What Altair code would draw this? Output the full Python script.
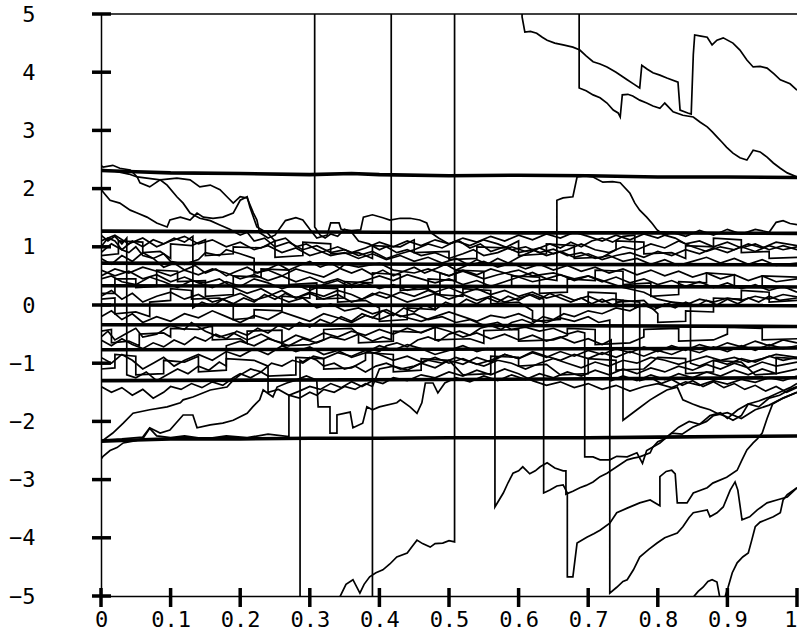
import altair as alt
import pandas as pd

# ---------------- tick values ----------------
x_ticks = [0, 0.1, 0.2, 0.3, 0.4, 0.5, 0.6, 0.7, 0.8, 0.9, 1.0]
y_ticks = [-5, -4, -3, -2, -1, 0, 1, 2, 3, 4, 5]

# ---------------- thick (nearly flat) reference paths ----------------
thick_1 = [(0, 2.31), (0.05, 2.29), (0.1, 2.27), (0.2, 2.26), (0.3, 2.24), (0.36, 2.26), (0.4, 2.24),
           (0.5, 2.22), (0.6, 2.23), (0.7, 2.22), (0.8, 2.2), (0.9, 2.2), (1.0, 2.19)]
thick_2 = [(0, 1.27), (0.2, 1.26), (0.4, 1.25), (0.6, 1.24), (0.8, 1.24), (1.0, 1.23)]
thick_3 = [(0, 0.72), (0.5, 0.7), (1.0, 0.69)]
thick_4 = [(0, 0.33), (0.5, 0.32), (1.0, 0.31)]
thick_5 = [(0, 0.0), (1.0, -0.01)]
thick_6 = [(0, -0.34), (0.5, -0.35), (1.0, -0.37)]
thick_7 = [(0, -0.77), (0.5, -0.76), (1.0, -0.74)]
thick_8 = [(0, -1.3), (0.5, -1.28), (1.0, -1.25)]
thick_9 = [(0, -2.34), (0.05, -2.32), (0.1, -2.3), (0.2, -2.3), (0.3, -2.29), (0.4, -2.29),
           (0.5, -2.28), (0.6, -2.28), (0.7, -2.28), (0.8, -2.27), (0.9, -2.26), (1.0, -2.25)]

# ---------------- thin sample paths ----------------
path_t1 = [(0.33, -5.4), (0.343, -5.02), (0.352, -4.8), (0.362, -4.72), (0.372, -4.95), (0.378, -4.8),
           (0.386, -4.67), (0.395, -4.6), (0.405, -4.55), (0.415, -4.45), (0.425, -4.33), (0.44, -4.26),
           (0.447, -4.15), (0.454, -4.04), (0.462, -4.1), (0.473, -4.16), (0.48, -4.1), (0.491, -4.09),
           (0.5, -4.05), (0.508, -4.07), (0.508, 6.0), (0.605, 6.0), (0.605, 4.95), (0.609, 4.69),
           (0.617, 4.7), (0.626, 4.67), (0.634, 4.6), (0.641, 4.55), (0.652, 4.5), (0.664, 4.47),
           (0.678, 4.43), (0.688, 4.38), (0.697, 4.28), (0.707, 4.18), (0.717, 4.14), (0.727, 4.09),
           (0.74, 4.0), (0.756, 3.87), (0.765, 3.8), (0.774, 3.73), (0.777, 4.12), (0.785, 4.05),
           (0.793, 3.99), (0.803, 3.95), (0.813, 3.9), (0.829, 3.83), (0.832, 3.35), (0.843, 3.3),
           (0.848, 3.28), (0.851, 4.3), (0.853, 4.64), (0.862, 4.62), (0.871, 4.6), (0.878, 4.47),
           (0.885, 4.55), (0.894, 4.59), (0.908, 4.5), (0.918, 4.38), (0.928, 4.21), (0.937, 4.09),
           (0.947, 4.1), (0.957, 4.07), (0.967, 3.97), (0.976, 3.87), (0.99, 3.8), (1.0, 3.69)]
path_t2 = [(0, -0.55), (0.01, -0.45), (0.02, -0.6), (0.035, -0.5), (0.05, -0.4), (0.06, -0.55), (0.08, -0.5),
           (0.1, -0.35), (0.12, -0.42), (0.13, -0.3), (0.15, -0.45), (0.17, -0.55), (0.19, -0.48),
           (0.21, -0.6), (0.23, -0.5), (0.25, -0.62), (0.27, -0.7), (0.29, -0.58), (0.31, -0.65),
           (0.33, -0.55), (0.35, -0.6), (0.37, -0.5), (0.39, -0.62), (0.405, -0.55), (0.417, -0.6),
           (0.417, 6.0), (0.687, 6.0), (0.687, 3.73), (0.697, 3.68), (0.707, 3.61), (0.717, 3.56),
           (0.727, 3.47), (0.736, 3.35), (0.743, 3.3), (0.746, 3.23), (0.749, 3.61), (0.757, 3.62),
           (0.764, 3.59), (0.774, 3.52), (0.784, 3.47), (0.793, 3.42), (0.803, 3.38), (0.81, 3.47),
           (0.822, 3.32), (0.836, 3.26), (0.851, 3.23), (0.861, 3.14), (0.871, 3.06), (0.878, 2.98),
           (0.885, 2.89), (0.892, 2.8), (0.899, 2.71), (0.908, 2.61), (0.918, 2.53), (0.928, 2.49),
           (0.937, 2.66), (0.947, 2.63), (0.957, 2.54), (0.966, 2.44), (0.976, 2.35), (0.986, 2.27),
           (1.0, 2.2)]
path_t3 = [(0, 6.0), (0.307, 6.0), (0.307, 1.34), (0.315, 1.2), (0.322, 1.15), (0.33, 1.22), (0.34, 1.18),
           (0.35, 1.3), (0.36, 1.25), (0.37, 1.1), (0.385, 1.05), (0.4, 0.95), (0.41, 1.0), (0.425, 0.9),
           (0.44, 0.95), (0.46, 0.85), (0.48, 0.9), (0.5, 0.8), (0.52, 0.88), (0.535, 0.95), (0.55, 0.85),
           (0.57, 0.9), (0.59, 1.0), (0.61, 0.92), (0.63, 0.98), (0.65, 0.88), (0.67, 0.95), (0.69, 1.05),
           (0.71, 0.95), (0.73, 0.9), (0.75, 1.0), (0.77, 0.95), (0.79, 1.05), (0.81, 0.98), (0.83, 1.1),
           (0.85, 1.0), (0.87, 0.92), (0.89, 1.0), (0.91, 0.95), (0.93, 1.05), (0.95, 0.98), (0.97, 1.08),
           (1.0, 1.02)]
path_t4 = [(0, -6.0), (0.286, -6.0), (0.286, -0.95), (0.29, -0.98), (0.3, -0.9), (0.31, -0.95), (0.32, -1.05),
           (0.335, -1.0), (0.35, -1.1), (0.365, -1.05), (0.38, -1.15), (0.395, -1.05), (0.41, -1.0),
           (0.43, -1.1), (0.45, -1.05), (0.47, -0.95), (0.49, -1.0), (0.51, -0.9), (0.53, -0.98),
           (0.55, -1.05), (0.57, -0.95), (0.59, -1.0), (0.61, -1.1), (0.63, -1.0), (0.65, -0.92),
           (0.67, -1.0), (0.69, -1.08), (0.71, -0.98), (0.73, -1.05), (0.75, -0.95), (0.77, -1.0),
           (0.79, -0.9), (0.81, -0.95), (0.83, -1.02), (0.85, -0.95), (0.87, -0.88), (0.89, -0.95),
           (0.91, -0.9), (0.93, -0.98), (0.95, -0.92), (0.97, -0.85), (1.0, -0.9)]
path_t5 = [(0, -6.0), (0.39, -6.0), (0.39, -0.83), (0.4, -0.8), (0.41, -0.7), (0.425, -0.65), (0.44, -0.72),
           (0.455, -0.6), (0.47, -0.55), (0.485, -0.62), (0.5, -0.5), (0.515, -0.45), (0.53, -0.52),
           (0.545, -0.4), (0.56, -0.35), (0.575, -0.42), (0.59, -0.3), (0.605, -0.25), (0.62, -0.32),
           (0.635, -0.2), (0.65, -0.25), (0.665, -0.15), (0.68, -0.2), (0.7, -0.1), (0.72, -0.15),
           (0.74, -0.05), (0.76, -0.1), (0.78, 0.02), (0.8, -0.05), (0.82, 0.05), (0.84, 0.0), (0.86, 0.1),
           (0.88, 0.05), (0.9, 0.12), (0.92, 0.08), (0.94, 0.15), (0.96, 0.1), (0.98, 0.18), (1.0, 0.14)]
path_t7 = [(0, -0.9), (0.015, -1.0), (0.03, -0.85), (0.045, -0.95), (0.06, -1.1), (0.075, -1.0), (0.09, -0.9),
           (0.105, -1.05), (0.12, -0.95), (0.14, -0.85), (0.16, -0.95), (0.18, -0.8), (0.2, -0.88),
           (0.22, -0.75), (0.24, -0.85), (0.26, -0.7), (0.28, -0.8), (0.3, -0.72), (0.32, -0.85),
           (0.34, -0.78), (0.36, -0.9), (0.38, -0.82), (0.4, -0.7), (0.42, -0.78), (0.44, -0.68),
           (0.46, -0.75), (0.48, -0.85), (0.5, -0.78), (0.52, -0.7), (0.54, -0.8), (0.555, -0.75),
           (0.566, -0.77), (0.566, -3.47), (0.572, -3.35), (0.578, -3.23), (0.585, -3.05), (0.592, -2.89),
           (0.6, -2.85), (0.606, -2.78), (0.616, -2.9), (0.624, -2.85), (0.631, -2.78), (0.641, -2.71),
           (0.652, -2.8), (0.664, -2.85), (0.668, -2.85), (0.668, -3.25), (0.678, -3.2), (0.688, -3.14),
           (0.697, -3.1), (0.707, -3.04), (0.717, -2.95), (0.727, -2.89), (0.741, -2.78), (0.756, -2.66),
           (0.765, -2.63), (0.774, -2.61), (0.789, -2.54), (0.793, -2.44), (0.803, -2.37), (0.815, -2.25),
           (0.83, -2.1), (0.845, -2.0), (0.86, -2.05), (0.875, -1.9), (0.89, -1.85), (0.9, -1.95),
           (0.915, -1.8), (0.93, -1.7), (0.945, -1.75), (0.96, -1.6), (0.975, -1.55), (0.99, -1.45),
           (1.0, -1.4)]
path_t8 = [(0, 0.15), (0.015, 0.25), (0.03, 0.1), (0.045, 0.2), (0.06, 0.05), (0.08, 0.15), (0.1, 0.22),
           (0.12, 0.1), (0.14, 0.18), (0.16, 0.05), (0.18, 0.12), (0.2, 0.2), (0.22, 0.08), (0.24, 0.15),
           (0.26, 0.25), (0.28, 0.12), (0.3, 0.2), (0.32, 0.1), (0.34, 0.18), (0.36, 0.05), (0.38, 0.12),
           (0.4, 0.22), (0.42, 0.15), (0.44, 0.05), (0.46, 0.12), (0.48, 0.2), (0.5, 0.1), (0.52, 0.18),
           (0.54, 0.08), (0.56, 0.15), (0.58, 0.05), (0.6, 0.12), (0.62, 0.18), (0.636, 0.1), (0.636, -3.23),
           (0.645, -3.18), (0.655, -3.11), (0.664, -3.09), (0.67, -3.23), (0.67, -4.67), (0.678, -4.67),
           (0.684, -4.09), (0.698, -3.99), (0.708, -3.93), (0.717, -3.87), (0.731, -3.75), (0.741, -3.57),
           (0.756, -3.49), (0.774, -3.4), (0.789, -3.35), (0.803, -3.45), (0.803, -2.95), (0.812, -2.86),
           (0.82, -2.84), (0.825, -2.9), (0.828, -3.4), (0.842, -3.4), (0.851, -3.23), (0.871, -3.14),
           (0.879, -3.06), (0.899, -2.96), (0.914, -2.84), (0.921, -2.66), (0.928, -2.49), (0.937, -2.37),
           (0.943, -2.3), (0.95, -2.2), (0.957, -1.95), (0.965, -1.7), (0.98, -1.6), (1.0, -1.5)]
path_t9 = [(0, -0.2), (0.015, -0.1), (0.03, -0.25), (0.045, -0.15), (0.06, -0.3), (0.08, -0.2), (0.1, -0.28),
           (0.12, -0.15), (0.14, -0.22), (0.16, -0.1), (0.18, -0.2), (0.2, -0.3), (0.22, -0.18), (0.24, -0.25),
           (0.26, -0.12), (0.28, -0.2), (0.3, -0.28), (0.32, -0.15), (0.34, -0.22), (0.36, -0.3), (0.38, -0.18),
           (0.4, -0.25), (0.42, -0.15), (0.44, -0.22), (0.46, -0.28), (0.48, -0.2), (0.5, -0.12), (0.52, -0.2),
           (0.54, -0.28), (0.56, -0.18), (0.58, -0.22), (0.6, -0.15), (0.62, -0.25), (0.64, -0.3),
           (0.66, -0.22), (0.68, -0.28), (0.7, -0.2), (0.715, -0.3), (0.731, -0.26), (0.731, -4.95),
           (0.741, -4.85), (0.75, -4.75), (0.756, -4.72), (0.765, -4.55), (0.774, -4.33), (0.787, -4.2),
           (0.799, -4.09), (0.81, -4.0), (0.828, -3.92), (0.836, -3.81), (0.845, -3.65), (0.851, -3.57),
           (0.871, -3.52), (0.875, -3.64), (0.885, -3.57), (0.894, -3.47), (0.904, -3.18), (0.911, -3.04),
           (0.915, -3.18), (0.921, -3.69), (0.932, -3.64), (0.943, -3.52), (0.957, -3.4), (0.971, -3.35),
           (0.986, -3.3), (1.0, -3.14)]
path_t10 = [(0.84, -5.5), (0.851, -5.02), (0.858, -4.92), (0.865, -4.85), (0.872, -4.75), (0.878, -4.72),
            (0.885, -4.76), (0.889, -5.02), (0.892, -5.5), (0.895, -5.5), (0.897, -5.0), (0.901, -4.85),
            (0.907, -4.6), (0.914, -4.43), (0.922, -4.33), (0.93, -4.26), (0.935, -4.04), (0.94, -3.81),
            (0.947, -3.73), (0.966, -3.64), (0.976, -3.57), (0.98, -3.35), (0.986, -3.26), (1.0, -3.14)]
path_qe = [(0, 0.45), (0.015, 0.5), (0.03, 0.4), (0.05, 0.35), (0.07, 0.48), (0.09, 0.4), (0.11, 0.3),
           (0.13, 0.42), (0.15, 0.38), (0.17, 0.45), (0.19, 0.3), (0.21, 0.2), (0.23, 0.28), (0.25, 0.15),
           (0.27, 0.05), (0.29, 0.12), (0.31, -0.05), (0.33, 0.02), (0.35, -0.1), (0.37, -0.05), (0.39, -0.15),
           (0.41, -0.08), (0.43, -0.2), (0.45, -0.15), (0.47, -0.25), (0.49, -0.2), (0.51, -0.3), (0.53, -0.25),
           (0.55, -0.35), (0.57, -0.3), (0.59, -0.42), (0.61, -0.38), (0.63, -0.45), (0.65, -0.4), (0.67, -0.5),
           (0.685, -0.45), (0.695, -0.48), (0.695, -2.61), (0.707, -2.61), (0.717, -2.66), (0.731, -2.66),
           (0.741, -2.6), (0.756, -2.61), (0.77, -2.54), (0.778, -2.72), (0.784, -2.5), (0.793, -2.44),
           (0.8, -2.35), (0.81, -2.3), (0.82, -2.2), (0.835, -2.22), (0.85, -2.1), (0.87, -2.0), (0.88, -1.9),
           (0.9, -1.85), (0.92, -1.95), (0.94, -1.8), (0.96, -1.72), (0.98, -1.6), (1.0, -1.5)]
path_qf = [(0, 0.6), (0.02, 0.5), (0.04, 0.58), (0.06, 0.45), (0.08, 0.52), (0.1, 0.4), (0.12, 0.48),
           (0.14, 0.38), (0.16, 0.3), (0.18, 0.4), (0.2, 0.32), (0.22, 0.45), (0.24, 0.38), (0.26, 0.28),
           (0.28, 0.35), (0.3, 0.25), (0.32, 0.35), (0.34, 0.42), (0.36, 0.3), (0.38, 0.38), (0.4, 0.28),
           (0.42, 0.35), (0.44, 0.25), (0.46, 0.32), (0.48, 0.22), (0.5, 0.3), (0.52, 0.2), (0.54, 0.28),
           (0.56, 0.18), (0.58, 0.25), (0.6, 0.15), (0.62, 0.22), (0.64, 0.12), (0.66, 0.18), (0.68, 0.08),
           (0.7, 0.15), (0.72, 0.05), (0.735, 0.1), (0.75, 0.08), (0.75, -1.98), (0.77, -1.8), (0.789, -1.63),
           (0.8, -1.55), (0.813, -1.46), (0.828, -1.41), (0.836, -1.63), (0.85, -1.7), (0.861, -1.75),
           (0.875, -1.8), (0.885, -1.86), (0.899, -1.92), (0.908, -1.98), (0.92, -1.9), (0.93, -1.7),
           (0.945, -1.65), (0.96, -1.58), (0.975, -1.5), (0.99, -1.42), (1.0, -1.35)]
path_u1 = [(0, 2.0), (0.003, 1.94), (0.013, 1.8), (0.027, 1.75), (0.042, 1.63), (0.052, 1.58), (0.066, 1.51),
           (0.08, 1.41), (0.095, 1.34), (0.099, 1.46), (0.114, 1.51), (0.128, 1.46), (0.138, 1.58),
           (0.147, 1.51), (0.161, 1.49), (0.175, 1.51), (0.19, 1.58), (0.2, 1.8), (0.21, 1.86), (0.214, 1.68),
           (0.224, 1.34), (0.239, 1.24), (0.25, 1.1), (0.265, 1.15), (0.28, 1.0), (0.295, 1.05), (0.31, 0.95),
           (0.33, 0.85), (0.35, 0.9), (0.37, 0.8), (0.39, 0.88), (0.41, 0.78), (0.43, 0.85), (0.45, 0.75),
           (0.47, 0.82), (0.49, 0.72), (0.51, 0.8), (0.53, 0.68), (0.55, 0.75), (0.57, 0.65), (0.59, 0.72),
           (0.61, 0.62), (0.63, 0.7), (0.65, 0.6), (0.67, 0.68), (0.69, 0.58), (0.71, 0.65), (0.73, 0.55),
           (0.75, 0.62), (0.77, 0.52), (0.79, 0.6), (0.81, 0.5), (0.83, 0.58), (0.85, 0.48), (0.87, 0.55),
           (0.89, 0.45), (0.91, 0.52), (0.93, 0.42), (0.95, 0.5), (0.97, 0.4), (1.0, 0.45)]
path_u2 = [(0, 2.4), (0.003, 2.37), (0.017, 2.4), (0.027, 2.35), (0.042, 2.32), (0.052, 2.2), (0.056, 2.1),
           (0.07, 2.03), (0.085, 2.15), (0.095, 2.06), (0.109, 1.86), (0.118, 1.75), (0.128, 1.58),
           (0.142, 1.49), (0.157, 1.45), (0.17, 1.38), (0.185, 1.3), (0.2, 1.2), (0.21, 1.25), (0.22, 1.1),
           (0.235, 1.15), (0.25, 1.0), (0.27, 1.08), (0.29, 0.95), (0.31, 1.02), (0.33, 0.9), (0.35, 0.95),
           (0.37, 0.85), (0.39, 0.92), (0.41, 0.8), (0.43, 0.88), (0.45, 0.95), (0.47, 1.05), (0.49, 0.98),
           (0.51, 1.1), (0.53, 1.02), (0.55, 1.12), (0.57, 1.05), (0.59, 0.95), (0.61, 1.0), (0.63, 0.9),
           (0.65, 0.96), (0.67, 0.85), (0.69, 0.9), (0.71, 0.8), (0.73, 0.85), (0.75, 0.75), (0.77, 0.8),
           (0.79, 0.7), (0.81, 0.78), (0.83, 0.68), (0.85, 0.75), (0.87, 0.82), (0.89, 0.72), (0.91, 0.8),
           (0.93, 0.7), (0.95, 0.78), (0.97, 0.68), (1.0, 0.72)]
path_u3 = [(0, 2.33), (0.02, 2.3), (0.04, 2.25), (0.052, 2.2), (0.085, 2.15), (0.109, 2.18), (0.128, 2.15),
           (0.142, 2.03), (0.157, 2.06), (0.171, 1.98), (0.181, 1.86), (0.19, 1.75), (0.2, 1.86), (0.21, 1.84),
           (0.219, 1.58), (0.224, 1.46), (0.228, 1.24), (0.24, 1.15), (0.25, 1.2), (0.265, 1.45), (0.28, 1.5),
           (0.29, 1.46), (0.3, 1.3), (0.31, 1.15), (0.325, 1.2), (0.33, 1.41), (0.342, 1.41), (0.345, 1.3),
           (0.36, 1.28), (0.373, 1.29), (0.377, 1.51), (0.39, 1.55), (0.405, 1.5), (0.415, 1.46), (0.43, 1.49),
           (0.444, 1.49), (0.458, 1.46), (0.468, 1.41), (0.473, 1.25), (0.485, 1.15), (0.5, 1.05),
           (0.515, 1.1), (0.53, 0.98), (0.545, 1.05), (0.56, 0.92), (0.58, 1.0), (0.6, 0.9), (0.62, 0.95),
           (0.64, 0.85), (0.66, 0.92), (0.68, 0.82), (0.7, 0.88), (0.72, 0.78), (0.74, 0.85), (0.76, 0.9),
           (0.78, 0.82), (0.8, 0.92), (0.82, 0.85), (0.84, 0.95), (0.86, 0.88), (0.88, 0.98), (0.9, 0.9),
           (0.92, 1.0), (0.94, 0.92), (0.96, 1.02), (0.98, 0.95), (1.0, 1.0)]
path_u4 = [(0, 0.5), (0.02, 0.62), (0.04, 0.55), (0.06, 0.65), (0.08, 0.58), (0.1, 0.5), (0.12, 0.6),
           (0.14, 0.52), (0.16, 0.62), (0.18, 0.55), (0.2, 0.45), (0.22, 0.52), (0.24, 0.42), (0.26, 0.5),
           (0.28, 0.4), (0.3, 0.48), (0.32, 0.38), (0.34, 0.45), (0.36, 0.35), (0.38, 0.42), (0.4, 0.5),
           (0.42, 0.42), (0.44, 0.52), (0.46, 0.45), (0.48, 0.38), (0.5, 0.45), (0.52, 0.35), (0.54, 0.42),
           (0.56, 0.32), (0.58, 0.4), (0.6, 0.48), (0.62, 0.4), (0.64, 0.45), (0.655, 0.42), (0.655, 1.8),
           (0.664, 1.84), (0.678, 1.86), (0.684, 2.2), (0.695, 2.22), (0.707, 2.2), (0.721, 2.11),
           (0.735, 2.12), (0.746, 2.1), (0.76, 1.92), (0.767, 1.75), (0.774, 1.63), (0.784, 1.51),
           (0.792, 1.4), (0.799, 1.29), (0.81, 1.2), (0.825, 1.15), (0.84, 1.05), (0.86, 1.1), (0.88, 1.0),
           (0.9, 1.08), (0.92, 0.98), (0.94, 1.05), (0.96, 0.95), (0.98, 1.02), (1.0, 0.95)]
path_u5 = [(0, 1.1), (0.02, 1.2), (0.04, 1.05), (0.06, 1.15), (0.08, 1.0), (0.1, 1.1), (0.12, 1.18),
           (0.14, 1.05), (0.16, 1.12), (0.18, 1.0), (0.2, 1.08), (0.22, 0.95), (0.24, 1.02), (0.26, 0.9),
           (0.28, 0.98), (0.3, 0.85), (0.32, 0.92), (0.34, 1.0), (0.36, 0.9), (0.38, 0.98), (0.4, 1.08),
           (0.42, 1.0), (0.44, 1.1), (0.46, 1.02), (0.48, 1.12), (0.5, 1.05), (0.52, 1.15), (0.54, 1.08),
           (0.56, 1.18), (0.58, 1.1), (0.6, 1.2), (0.62, 1.12), (0.64, 1.22), (0.66, 1.15), (0.68, 1.25),
           (0.7, 1.18), (0.72, 1.1), (0.74, 1.2), (0.76, 1.12), (0.78, 1.22), (0.8, 1.15), (0.82, 1.25),
           (0.84, 1.18), (0.86, 1.28), (0.88, 1.2), (0.9, 1.3), (0.92, 1.22), (0.94, 1.3), (0.96, 1.25),
           (0.97, 1.42), (0.98, 1.45), (0.99, 1.4), (1.0, 1.38)]
path_qa = [(0, -2.65), (0.003, -2.6), (0.013, -2.5), (0.023, -2.45), (0.032, -2.37), (0.05, -2.33),
           (0.06, -2.3), (0.07, -2.12), (0.08, -2.25), (0.1, -2.28), (0.12, -2.25), (0.15, -2.3),
           (0.18, -2.25), (0.21, -2.28), (0.24, -2.22), (0.27, -2.26), (0.27, -1.55), (0.285, -1.6),
           (0.3, -1.5), (0.31, -1.55), (0.32, -1.45), (0.335, -1.5), (0.35, -1.4), (0.365, -1.45),
           (0.38, -1.35), (0.39, -1.4), (0.4, -1.1), (0.42, -1.05), (0.44, -1.12), (0.46, -1.0), (0.48, -1.08),
           (0.5, -0.95), (0.52, -1.02), (0.54, -0.9), (0.56, -0.98), (0.58, -0.85), (0.6, -0.92), (0.62, -0.8),
           (0.64, -0.88), (0.66, -0.95), (0.68, -0.85), (0.7, -0.92), (0.72, -0.82), (0.74, -0.9), (0.76, -0.8),
           (0.78, -0.88), (0.8, -0.78), (0.82, -0.85), (0.84, -0.75), (0.86, -0.82), (0.88, -0.72), (0.9, -0.8),
           (0.92, -0.7), (0.94, -0.78), (0.96, -0.68), (0.98, -0.75), (1.0, -0.7)]
path_qb = [(0, -2.35), (0.017, -2.2), (0.032, -2.03), (0.046, -1.86), (0.07, -1.8), (0.095, -1.75),
           (0.114, -1.68), (0.118, -1.63), (0.132, -1.58), (0.157, -1.46), (0.181, -1.41), (0.19, -1.29),
           (0.2, -1.2), (0.215, -1.1), (0.23, -1.15), (0.245, -1.0), (0.26, -1.05), (0.275, -0.95), (0.29, -1.0),
           (0.305, -0.88), (0.32, -0.92), (0.34, -0.82), (0.36, -0.88), (0.38, -0.78), (0.4, -0.85), (0.42, -0.95),
           (0.44, -0.88), (0.46, -0.98), (0.48, -0.9), (0.5, -1.0), (0.52, -0.92), (0.54, -1.02), (0.56, -0.95),
           (0.58, -0.85), (0.6, -0.92), (0.62, -0.82), (0.64, -0.9), (0.66, -0.8), (0.68, -0.88), (0.7, -0.78),
           (0.72, -0.85), (0.74, -0.75), (0.76, -0.82), (0.78, -0.72), (0.8, -0.8), (0.82, -0.7), (0.84, -0.78),
           (0.86, -0.68), (0.88, -0.75), (0.9, -0.65), (0.92, -0.72), (0.94, -0.62), (0.96, -0.7), (0.98, -0.6),
           (1.0, -0.65)]
path_qc = [(0, -2.32), (0.03, -2.3), (0.06, -2.27), (0.07, -2.11), (0.085, -2.2), (0.099, -2.15),
           (0.118, -1.89), (0.132, -1.89), (0.138, -2.11), (0.157, -2.06), (0.175, -2.03), (0.19, -1.98),
           (0.21, -1.86), (0.218, -1.75), (0.228, -1.63), (0.233, -1.46), (0.247, -1.58), (0.253, -1.41),
           (0.267, -1.34), (0.28, -1.29), (0.295, -1.22), (0.31, -1.29), (0.312, -1.75), (0.329, -1.75),
           (0.329, -2.2), (0.339, -2.2), (0.339, -1.89), (0.358, -1.84), (0.362, -2.11), (0.376, -2.03),
           (0.382, -1.75), (0.39, -1.8), (0.4, -1.75), (0.425, -1.68), (0.43, -1.63), (0.444, -1.75),
           (0.454, -1.86), (0.461, -1.68), (0.466, -1.34), (0.477, -1.34), (0.484, -1.51), (0.494, -1.34),
           (0.51, -1.25), (0.53, -1.32), (0.55, -1.22), (0.57, -1.3), (0.59, -1.2), (0.61, -1.28), (0.63, -1.18),
           (0.65, -1.25), (0.67, -1.15), (0.69, -1.22), (0.71, -1.12), (0.73, -1.2), (0.75, -1.1), (0.77, -1.18),
           (0.79, -1.08), (0.81, -1.15), (0.83, -1.05), (0.85, -1.12), (0.87, -1.02), (0.89, -1.1), (0.91, -1.0),
           (0.93, -1.08), (0.95, -0.98), (0.97, -1.05), (1.0, -0.98)]
path_m1 = [(0, 1.0), (0.01, 1.15), (0.02, 1.1), (0.03, 0.95), (0.04, 0.9), (0.05, 1.0), (0.06, 0.85),
           (0.075, 0.8), (0.09, 0.88), (0.1, 0.75), (0.12, 0.7), (0.14, 0.78), (0.15, 0.9), (0.17, 0.85),
           (0.18, 0.95), (0.2, 0.88), (0.22, 0.8), (0.22, 0.55), (0.24, 0.6), (0.26, 0.5), (0.28, 0.62),
           (0.3, 0.55), (0.32, 0.48), (0.34, 0.6), (0.35, 0.7), (0.37, 0.65), (0.4, 0.72), (0.42, 0.6),
           (0.45, 0.55), (0.47, 0.62), (0.5, 0.5), (0.52, 0.58), (0.55, 0.45), (0.57, 0.52), (0.6, 0.6),
           (0.62, 0.5), (0.65, 0.55), (0.68, 0.45), (0.7, 0.5), (0.73, 0.38), (0.75, 0.3), (0.78, 0.22),
           (0.8, 0.1), (0.82, 0.05), (0.847, 0.02), (0.847, -1.0), (0.86, -1.05), (0.88, -0.95), (0.9, -1.02),
           (0.92, -0.92), (0.94, -0.98), (0.96, -0.88), (0.98, -0.95), (1.0, -0.9)]
path_m2 = [(0, 0.9), (0.015, 1.05), (0.03, 0.95), (0.045, 1.1), (0.06, 1.0), (0.075, 1.12), (0.09, 1.05),
           (0.105, 1.15), (0.12, 1.08), (0.132, 1.18), (0.132, -0.05), (0.145, 0.05), (0.16, -0.02),
           (0.175, 0.1), (0.19, 0.02), (0.205, 0.12), (0.22, 0.05), (0.235, 0.18), (0.25, 0.1), (0.265, 0.2),
           (0.28, 0.12), (0.3, 0.22), (0.32, 0.15), (0.34, 0.25), (0.36, 0.18), (0.375, 0.1), (0.39, 0.2),
           (0.41, 0.12), (0.43, 0.22), (0.45, 0.15), (0.47, 0.25), (0.487, 0.18), (0.487, 0.55), (0.5, 0.5),
           (0.52, 0.6), (0.54, 0.52), (0.56, 0.62), (0.58, 0.55), (0.6, 0.48), (0.62, 0.56), (0.64, 0.45),
           (0.66, 0.52), (0.68, 0.42), (0.7, 0.5), (0.72, 0.4), (0.74, 0.48), (0.76, 0.38), (0.78, 0.45),
           (0.8, 0.35), (0.82, 0.42), (0.84, 0.32), (0.86, 0.4), (0.88, 0.3), (0.9, 0.38), (0.92, 0.28),
           (0.94, 0.35), (0.96, 0.25), (0.98, 0.32), (1.0, 0.22)]
path_m3 = [(0, 1.2), (0.01, 1.1), (0.02, 1.18), (0.03, 1.05), (0.037, 1.15), (0.037, -1.2), (0.05, -1.25),
           (0.065, -1.15), (0.08, -1.3), (0.095, -1.2), (0.11, -1.1), (0.125, -1.18), (0.14, -1.05),
           (0.155, -1.12), (0.17, -0.98), (0.18, -1.05), (0.18, -0.7), (0.2, -0.62), (0.22, -0.7), (0.24, -0.58),
           (0.26, -0.65), (0.28, -0.52), (0.3, -0.6), (0.32, -0.48), (0.34, -0.55), (0.36, -0.45), (0.38, -0.52),
           (0.4, -0.42), (0.42, -0.5), (0.44, -0.4), (0.46, -0.48), (0.48, -0.38), (0.5, -0.45), (0.52, -0.55),
           (0.54, -0.48), (0.56, -0.58), (0.58, -0.5), (0.6, -0.6), (0.62, -0.52), (0.64, -0.62), (0.66, -0.55),
           (0.68, -0.65), (0.7, -0.58), (0.72, -0.68), (0.733, -0.6), (0.733, -1.3), (0.75, -1.22), (0.77, -1.3),
           (0.79, -1.2), (0.81, -1.28), (0.83, -1.18), (0.85, -1.25), (0.87, -1.15), (0.89, -1.22), (0.91, -1.12),
           (0.93, -1.2), (0.95, -1.1), (0.97, -1.18), (1.0, -1.1)]
path_m4 = [(0, -1.4), (0.015, -1.5), (0.03, -1.42), (0.045, -1.55), (0.06, -1.45), (0.075, -1.6), (0.09, -1.5),
           (0.1, -1.4), (0.115, -1.45), (0.13, -1.35), (0.145, -1.42), (0.16, -1.32), (0.175, -1.38), (0.19, -1.25),
           (0.2, -1.18), (0.215, -1.25), (0.23, -1.15), (0.24, -1.22), (0.24, -1.5), (0.255, -1.45), (0.27, -1.55),
           (0.285, -1.48), (0.3, -1.4), (0.315, -1.45), (0.33, -1.35), (0.345, -1.42), (0.36, -1.32), (0.375, -1.4),
           (0.39, -1.3), (0.405, -1.35), (0.42, -1.25), (0.44, -1.3), (0.46, -1.2), (0.48, -1.25), (0.5, -1.15),
           (0.52, -1.22), (0.54, -1.12), (0.56, -1.2), (0.58, -1.1), (0.6, -1.18), (0.62, -1.3), (0.64, -1.38),
           (0.66, -1.32), (0.68, -1.42), (0.7, -1.35), (0.72, -1.45), (0.74, -1.38), (0.76, -1.48), (0.78, -1.4),
           (0.8, -1.35), (0.82, -1.42), (0.84, -1.32), (0.86, -1.38), (0.88, -1.3), (0.9, -1.36), (0.92, -1.28),
           (0.94, -1.33), (0.96, -1.25), (0.98, -1.3), (1.0, -1.22)]
path_m5 = [(0, 0.8), (0.015, 0.7), (0.03, 0.85), (0.045, 0.75), (0.06, 0.9), (0.075, 0.8), (0.09, 0.65),
           (0.105, 0.72), (0.12, 0.6), (0.135, 0.68), (0.15, 0.55), (0.165, 0.62), (0.18, 0.5), (0.195, 0.58),
           (0.21, 0.65), (0.225, 0.55), (0.24, 0.62), (0.255, 0.7), (0.27, 0.6), (0.285, 0.68), (0.3, 0.75),
           (0.315, 0.65), (0.33, 0.72), (0.345, 0.62), (0.36, 0.55), (0.375, 0.62), (0.39, 0.52), (0.405, 0.6),
           (0.42, 0.5), (0.435, 0.58), (0.45, 0.65), (0.465, 0.55), (0.48, 0.62), (0.495, 0.7), (0.51, 0.6),
           (0.525, 0.68), (0.54, 0.78), (0.555, 0.7), (0.57, 0.8), (0.585, 0.72), (0.6, 0.82), (0.615, 0.9),
           (0.63, 0.98), (0.645, 1.05), (0.66, 0.98), (0.675, 1.08), (0.69, 1.0), (0.705, 1.1), (0.72, 1.15),
           (0.735, 1.08), (0.75, 1.18), (0.767, 1.2), (0.767, -0.05), (0.78, 0.0), (0.795, -0.08), (0.81, 0.02),
           (0.825, -0.05), (0.84, 0.05), (0.855, -0.02), (0.87, 0.08), (0.885, 0.0), (0.9, 0.1), (0.915, 0.02),
           (0.93, 0.12), (0.945, 0.05), (0.96, 0.15), (0.975, 0.08), (1.0, 0.12)]
path_m6 = [(0, -0.6), (0.015, -0.7), (0.03, -0.58), (0.045, -0.68), (0.06, -0.75), (0.075, -0.65), (0.09, -0.72),
           (0.105, -0.6), (0.12, -0.68), (0.135, -0.55), (0.15, -0.62), (0.165, -0.5), (0.18, -0.58),
           (0.195, -0.45), (0.21, -0.52), (0.225, -0.4), (0.24, -0.48), (0.255, -0.35), (0.27, -0.42),
           (0.285, -0.3), (0.3, -0.38), (0.315, -0.25), (0.33, -0.32), (0.345, -0.2), (0.36, -0.28),
           (0.375, -0.15), (0.39, -0.22), (0.405, -0.1), (0.42, -0.18), (0.435, -0.05), (0.45, -0.12),
           (0.465, 0.0), (0.48, -0.08), (0.495, 0.05), (0.51, -0.02), (0.525, 0.1), (0.54, 0.02), (0.555, 0.12),
           (0.57, 0.05), (0.585, 0.15), (0.6, 0.08), (0.615, 0.18), (0.63, 0.1), (0.645, 0.2), (0.66, 0.12),
           (0.675, 0.05), (0.69, 0.12), (0.705, 0.02), (0.72, 0.1), (0.735, 0.0), (0.75, 0.08), (0.774, 0.05),
           (0.774, -1.3), (0.79, -1.25), (0.805, -1.35), (0.82, -1.28), (0.835, -1.38), (0.85, -1.3),
           (0.865, -1.4), (0.88, -1.32), (0.895, -1.42), (0.91, -1.35), (0.925, -1.45), (0.94, -1.38),
           (0.955, -1.48), (0.97, -1.4), (0.985, -1.5), (1.0, -1.42)]
path_s1 = [(0, 0.2), (0.02, 0.2), (0.02, 0.45), (0.05, 0.45), (0.05, 0.3), (0.08, 0.32), (0.08, 0.6),
           (0.11, 0.58), (0.11, 0.4), (0.15, 0.42), (0.15, 0.15), (0.19, 0.18), (0.19, 0.5), (0.23, 0.48),
           (0.23, 0.62), (0.27, 0.6), (0.27, 0.35), (0.31, 0.38), (0.31, 0.1), (0.35, 0.12), (0.35, 0.4),
           (0.39, 0.38), (0.39, 0.55), (0.43, 0.52), (0.43, 0.25), (0.47, 0.28), (0.47, 0.45), (0.51, 0.42),
           (0.51, 0.6), (0.55, 0.58), (0.55, 0.3), (0.59, 0.32), (0.59, 0.5), (0.63, 0.48), (0.63, 0.2),
           (0.67, 0.22), (0.67, 0.45), (0.71, 0.42), (0.71, 0.6), (0.75, 0.58), (0.75, 0.35), (0.79, 0.38),
           (0.79, 0.15), (0.83, 0.18), (0.83, 0.4), (0.87, 0.38), (0.87, 0.55), (0.91, 0.52), (0.91, 0.3),
           (0.95, 0.32), (0.95, 0.5), (1.0, 0.48)]
path_s2 = [(0, -0.45), (0.015, -0.42), (0.015, -0.65), (0.04, -0.62), (0.055, -0.7), (0.055, -0.5),
           (0.09, -0.48), (0.1, -0.55), (0.1, -0.4), (0.14, -0.42), (0.16, -0.36), (0.16, -0.6), (0.2, -0.58),
           (0.21, -0.66), (0.21, -0.45), (0.26, -0.43), (0.26, -0.7), (0.3, -0.68), (0.32, -0.6), (0.32, -0.42),
           (0.36, -0.4), (0.37, -0.5), (0.37, -0.65), (0.42, -0.62), (0.42, -0.45), (0.46, -0.47), (0.48, -0.38),
           (0.48, -0.6), (0.53, -0.58), (0.55, -0.66), (0.55, -0.44), (0.6, -0.42), (0.6, -0.62), (0.65, -0.6),
           (0.67, -0.52), (0.67, -0.4), (0.71, -0.42), (0.71, -0.68), (0.76, -0.65), (0.78, -0.55), (0.78, -0.42),
           (0.83, -0.4), (0.83, -0.62), (0.88, -0.6), (0.9, -0.5), (0.9, -0.38), (0.95, -0.4), (0.95, -0.6),
           (1.0, -0.58)]
path_s3 = [(0, 0.85), (0.025, 0.88), (0.025, 1.1), (0.06, 1.08), (0.06, 0.9), (0.085, 0.92), (0.1, 0.8),
           (0.1, 1.05), (0.13, 1.02), (0.15, 1.12), (0.15, 0.85), (0.19, 0.88), (0.19, 1.0), (0.23, 0.98),
           (0.25, 1.1), (0.25, 0.82), (0.29, 0.85), (0.29, 1.08), (0.33, 1.05), (0.33, 0.88), (0.37, 0.9),
           (0.39, 0.8), (0.39, 1.02), (0.43, 1.0), (0.45, 1.12), (0.45, 0.9), (0.5, 0.92), (0.5, 0.78),
           (0.54, 0.8), (0.54, 1.0), (0.58, 0.98), (0.6, 1.1), (0.6, 0.85), (0.64, 0.88), (0.64, 1.05),
           (0.68, 1.02), (0.68, 0.8), (0.72, 0.82), (0.74, 0.95), (0.74, 1.1), (0.78, 1.08), (0.78, 0.88),
           (0.82, 0.9), (0.84, 0.8), (0.84, 1.02), (0.88, 1.0), (0.88, 1.15), (0.92, 1.12), (0.92, 0.9),
           (0.96, 0.92), (0.96, 0.8), (1.0, 0.82)]
path_s4 = [(0, 0.1), (0.02, 0.12), (0.02, -0.15), (0.05, -0.12), (0.07, -0.2), (0.07, 0.05), (0.1, 0.08),
           (0.1, 0.28), (0.13, 0.25), (0.13, 0.1), (0.17, 0.12), (0.19, 0.02), (0.19, -0.25), (0.22, -0.22),
           (0.22, -0.08), (0.26, -0.1), (0.26, 0.15), (0.3, 0.12), (0.3, 0.3), (0.34, 0.28), (0.34, 0.05),
           (0.38, 0.08), (0.4, -0.05), (0.4, -0.28), (0.44, -0.25), (0.44, -0.05), (0.48, -0.08), (0.48, 0.18),
           (0.52, 0.15), (0.52, 0.28), (0.56, 0.25), (0.56, 0.02), (0.6, 0.05), (0.62, -0.1), (0.62, -0.28),
           (0.66, -0.25), (0.66, 0.0), (0.7, 0.02), (0.7, 0.22), (0.74, 0.2), (0.74, 0.05), (0.78, 0.08),
           (0.8, -0.15), (0.8, -0.3), (0.84, -0.28), (0.84, -0.1), (0.88, -0.12), (0.88, 0.12), (0.92, 0.1),
           (0.92, 0.25), (0.96, 0.22), (0.96, 0.05), (1.0, 0.08)]
path_s5 = [(0, -1.1), (0.02, -1.08), (0.02, -0.85), (0.05, -0.88), (0.05, -1.2), (0.09, -1.18), (0.09, -0.95),
           (0.12, -0.98), (0.14, -0.88), (0.14, -1.15), (0.18, -1.12), (0.18, -0.92), (0.22, -0.95), (0.24, -1.05),
           (0.24, -1.22), (0.28, -1.2), (0.28, -0.9), (0.32, -0.92), (0.32, -1.1), (0.36, -1.08), (0.38, -0.95),
           (0.38, -0.82), (0.42, -0.85), (0.42, -1.15), (0.46, -1.12), (0.46, -0.92), (0.5, -0.95), (0.52, -1.2),
           (0.56, -1.18), (0.56, -0.88), (0.6, -0.9), (0.6, -1.05), (0.64, -1.02), (0.66, -1.2), (0.7, -1.18),
           (0.7, -0.92), (0.74, -0.95), (0.74, -1.12), (0.78, -1.1), (0.8, -0.9), (0.84, -0.92), (0.84, -1.18),
           (0.88, -1.15), (0.88, -0.95), (0.92, -0.98), (0.94, -1.2), (0.97, -1.18), (0.97, -0.9), (1.0, -0.92)]

thick_paths = {"k1": thick_1, "k2": thick_2, "k3": thick_3, "k4": thick_4, "k5": thick_5,
               "k6": thick_6, "k7": thick_7, "k8": thick_8, "k9": thick_9}
thin_paths = {"t1": path_t1, "t2": path_t2, "t3": path_t3, "t4": path_t4, "t5": path_t5,
              "t7": path_t7, "t8": path_t8, "t9": path_t9, "t10": path_t10, "qe": path_qe,
              "qf": path_qf, "u1": path_u1, "u2": path_u2, "u3": path_u3, "u4": path_u4,
              "u5": path_u5, "qa": path_qa, "qb": path_qb, "qc": path_qc, "m1": path_m1,
              "m2": path_m2, "m3": path_m3, "m4": path_m4, "m5": path_m5, "m6": path_m6,
              "s1": path_s1, "s2": path_s2, "s3": path_s3, "s4": path_s4, "s5": path_s5}


def to_frame(paths):
    rows = []
    for name, pts in paths.items():
        for i, (xv, yv) in enumerate(pts):
            rows.append({"id": name, "o": i, "x": xv, "y": yv})
    return pd.DataFrame(rows)


thin_df = to_frame(thin_paths)
thick_df = to_frame(thick_paths)

W, H = 696, 582
FONT = "DejaVu Sans Mono"

x_scale = alt.Scale(domain=[0, 1], nice=False, zero=False)
y_scale = alt.Scale(domain=[-5, 5], nice=False, zero=False)

x_axis = alt.Axis(values=x_ticks, title=None, grid=False, ticks=False, domain=True,
                  domainColor="black", domainWidth=1.5, labelFont=FONT, labelFontSize=22,
                  labelColor="black", labelPadding=13, labelFlush=False,
                  labelAlign={"condition": {"test": "datum.value >= 1", "value": "right"}, "value": "center"},
                  labelExpr="datum.value == 0 ? '0' : (datum.value == 1 ? '1' : format(datum.value, '.1f'))")
y_axis = alt.Axis(values=y_ticks, title=None, grid=False, ticks=False, domain=True,
                  domainColor="black", domainWidth=1.5, labelFont=FONT, labelFontSize=22,
                  labelColor="black", labelPadding=66, labelFlush=False, format="d")

thin = alt.Chart(thin_df).mark_line(color="black", strokeWidth=1.7, clip=True).encode(
    x=alt.X("x:Q", scale=x_scale, axis=x_axis),
    y=alt.Y("y:Q", scale=y_scale, axis=y_axis),
    detail="id:N",
    order="o:Q",
)

thick = alt.Chart(thick_df).mark_line(color="black", strokeWidth=3.6, clip=True).encode(
    x=alt.X("x:Q", scale=x_scale),
    y=alt.Y("y:Q", scale=y_scale),
    detail="id:N",
    order="o:Q",
)

top_frame = alt.Chart(pd.DataFrame({"v": [y_ticks[-1]]})).mark_rule(color="black", strokeWidth=1.5).encode(
    y=alt.Y("v:Q", scale=y_scale)
)

yt = alt.Chart(pd.DataFrame({"t": y_ticks})).mark_rule(color="black", strokeWidth=3.5).encode(
    y=alt.Y("t:Q", scale=y_scale), x=alt.value(-9), x2=alt.value(10)
)
xt = alt.Chart(pd.DataFrame({"t": x_ticks})).mark_rule(color="black", strokeWidth=3.5).encode(
    x=alt.X("t:Q", scale=x_scale), y=alt.value(H - 8), y2=alt.value(H + 11)
)

chart = alt.layer(thin, thick, top_frame, yt, xt).properties(
    width=W, height=H,
    autosize=alt.AutoSizeParams(type="none"),
    padding={"left": 101, "top": 14, "right": 3, "bottom": 44},
    background="white",
).configure_view(strokeWidth=0)

chart.save("out.html", embed_options={"renderer": "svg", "actions": False})
